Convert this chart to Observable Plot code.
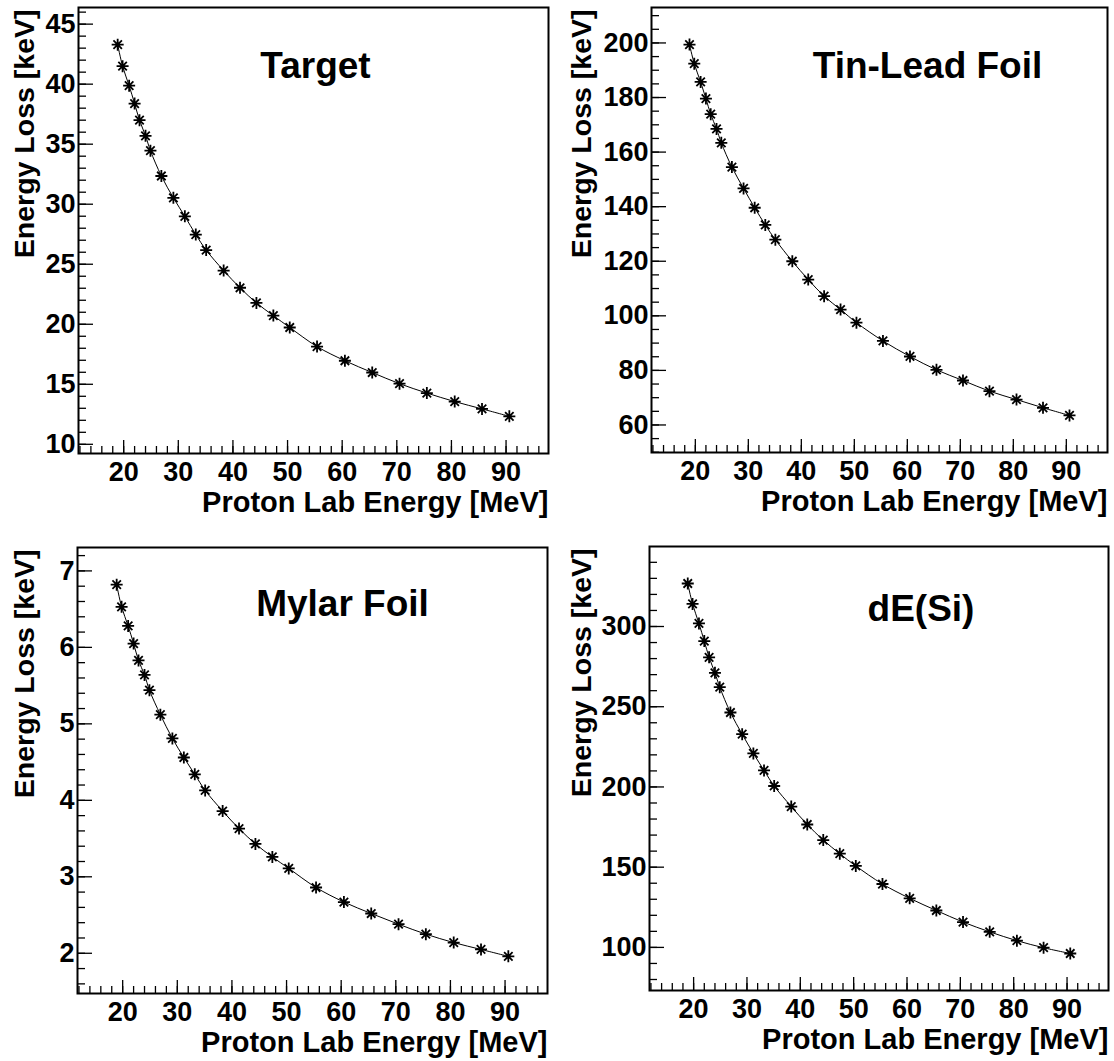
<!DOCTYPE html>
<html>
<head>
<meta charset="utf-8">
<script src="https://cdn.jsdelivr.net/npm/d3@7"></script>
<script src="https://cdn.jsdelivr.net/npm/@observablehq/plot@0.6"></script>
<style>
  html, body { margin: 0; padding: 0; background: #fff; }
  #fig { position: relative; width: 1114px; height: 1061px; background: #fff; overflow: hidden; }
  .panel { position: absolute; }
</style>
</head>
<body>
<div id="fig"></div>
<script>
// ---- data ----
const energies = [18.9, 19.8, 21.0, 22.0, 22.9, 24.0, 24.9, 26.9, 29.1, 31.2, 33.2, 35.1, 38.3, 41.3, 44.3, 47.4, 50.4, 55.4, 60.5, 65.5, 70.5, 75.5, 80.6, 85.6, 90.6];
const targetLoss = [43.29, 41.5, 39.87, 38.38, 37.0, 35.7, 34.46, 32.35, 30.53, 28.99, 27.47, 26.18, 24.47, 23.04, 21.78, 20.72, 19.73, 18.14, 16.96, 15.98, 15.05, 14.27, 13.56, 12.95, 12.33];
const tinLeadLoss = [199.4, 192.4, 185.7, 179.6, 173.9, 168.5, 163.4, 154.5, 146.7, 139.6, 133.3, 127.9, 120.0, 113.3, 107.2, 102.3, 97.5, 90.8, 85.1, 80.2, 76.3, 72.4, 69.3, 66.3, 63.5];
const mylarLoss = [6.82, 6.53, 6.28, 6.05, 5.83, 5.64, 5.44, 5.12, 4.81, 4.56, 4.34, 4.13, 3.86, 3.63, 3.43, 3.26, 3.11, 2.86, 2.67, 2.52, 2.38, 2.25, 2.14, 2.05, 1.96];
const dESiLoss = [326.8, 314.1, 301.9, 290.9, 280.8, 271.1, 262.2, 246.4, 232.9, 220.9, 210.3, 200.6, 187.8, 176.6, 166.9, 158.4, 150.8, 139.5, 130.6, 123.0, 115.8, 109.7, 104.2, 99.8, 96.2];

// ---- tick labels ----
const xMajorTicks = [20, 30, 40, 50, 60, 70, 80, 90];
const targetTicks = [10, 15, 20, 25, 30, 35, 40, 45];
const tinLeadTicks = [60, 80, 100, 120, 140, 160, 180, 200];
const mylarTicks = [2, 3, 4, 5, 6, 7];
const dESiTicks = [100, 150, 200, 250, 300];

const xTitle = "Proton Lab Energy [MeV]";
const yTitle = "Energy Loss [keV]";

const FONT = "'Liberation Sans', Arial, Helvetica, sans-serif";

// ROOT-like asterisk marker
const asterisk = {
  draw(ctx, size) {
    const r = Math.sqrt(size / Math.PI);
    const d = r * Math.SQRT1_2;
    ctx.moveTo(-r, 0); ctx.lineTo(r, 0);
    ctx.moveTo(0, -r); ctx.lineTo(0, r);
    ctx.moveTo(-d, -d); ctx.lineTo(d, d);
    ctx.moveTo(-d, d); ctx.lineTo(d, -d);
  }
};

function padded(vals) {
  const lo = d3.min(vals), hi = d3.max(vals), r = hi - lo;
  return [lo - 0.1 * r, hi + 0.1 * r];
}

const panels = [
  {name: "Target", loss: targetLoss, ticks: targetTicks, minorStep: 1,
   left: 0, top: 0, w: 557, h: 530, mL: 78, mR: 9, mT: 7, mB: 77,
   tdx: 2, tdy: 44, ydx: -65},
  {name: "Tin-Lead Foil", loss: tinLeadLoss, ticks: tinLeadTicks, minorStep: 5,
   left: 557, top: 0, w: 557, h: 530, mL: 94, mR: 7, mT: 7, mB: 78,
   tdx: 48, tdy: 44, ydx: -81},
  {name: "Mylar Foil", loss: mylarLoss, ticks: mylarTicks, minorStep: 0.2,
   left: 0, top: 530, w: 557, h: 531, mL: 77, mR: 10, mT: 17, mB: 68,
   tdx: 30, tdy: 42, ydx: -64},
  {name: "dE(Si)", loss: dESiLoss, ticks: dESiTicks, minorStep: 10,
   left: 557, top: 530, w: 557, h: 531, mL: 92, mR: 6, mT: 16, mB: 71,
   tdx: 42, tdy: 48, ydx: -79}
];

const fig = document.getElementById("fig");
const xDom = padded(energies);

for (const p of panels) {
  const data = energies.map((e, i) => ({e, v: p.loss[i]}));
  const yDom = padded(p.loss);
  const innerW = p.w - p.mL - p.mR;
  const innerH = p.h - p.mT - p.mB;
  const inX = v => v >= xDom[0] && v <= xDom[1];
  const inY = v => v >= yDom[0] && v <= yDom[1];
  const xMinor = d3.range(Math.ceil(xDom[0] / 2) * 2, xDom[1], 2).filter(inX);
  const yMinor = d3.range(Math.ceil(yDom[0] / p.minorStep - 1e-9), Math.floor(yDom[1] / p.minorStep + 1e-9) + 1)
    .map(k => +(k * p.minorStep).toFixed(6)).filter(inY);

  const chart = Plot.plot({
    width: p.w, height: p.h,
    marginLeft: p.mL, marginRight: p.mR, marginTop: p.mT, marginBottom: p.mB,
    x: {domain: xDom},
    y: {domain: yDom},
    style: {fontFamily: FONT, fontWeight: "bold", fontSize: "27px", color: "black", background: "white", overflow: "visible"},
    marks: [
      Plot.tickX(xMinor, {x: d => d, insetTop: innerH - 7, stroke: "black", strokeWidth: 1.3}),
      Plot.tickX(xMajorTicks.filter(inX), {x: d => d, insetTop: innerH - 13, stroke: "black", strokeWidth: 1.3}),
      Plot.tickY(yMinor, {y: d => d, insetRight: innerW - 8, stroke: "black", strokeWidth: 1.3}),
      Plot.tickY(p.ticks.filter(inY), {y: d => d, insetRight: innerW - 15, stroke: "black", strokeWidth: 1.3}),
      Plot.axisX(xMajorTicks, {tickSize: 0, tickPadding: 8, label: null, tickFormat: d => String(d), fontSize: 27, fontWeight: "bold", fill: "black"}),
      Plot.axisY(p.ticks, {tickSize: 0, tickPadding: 3, label: null, tickFormat: d => String(d), fontSize: 27, fontWeight: "bold", fill: "black"}),
      Plot.line(data, {x: "e", y: "v", curve: "catmull-rom", stroke: "black", strokeWidth: 1}),
      Plot.dot(data, {x: "e", y: "v", symbol: asterisk, r: 6, fill: "none", stroke: "black", strokeWidth: 1.8}),
      Plot.frame({stroke: "black", strokeWidth: 2}),
      Plot.text([xTitle], {frameAnchor: "bottom-right", dy: 38, lineAnchor: "top", textAnchor: "end", fontSize: 29, fill: "black"}),
      Plot.text([yTitle], {frameAnchor: "top-left", rotate: -90, dx: p.ydx, dy: 2, textAnchor: "end", fontSize: 28.5, fill: "black"}),
      Plot.text([p.name], {frameAnchor: "top", dx: p.tdx, dy: p.tdy, lineAnchor: "top", fontSize: 37, fill: "black"})
    ]
  });
  const div = document.createElement("div");
  div.className = "panel";
  div.style.left = p.left + "px";
  div.style.top = p.top + "px";
  div.appendChild(chart);
  fig.appendChild(div);
}
</script>
</body>
</html>
